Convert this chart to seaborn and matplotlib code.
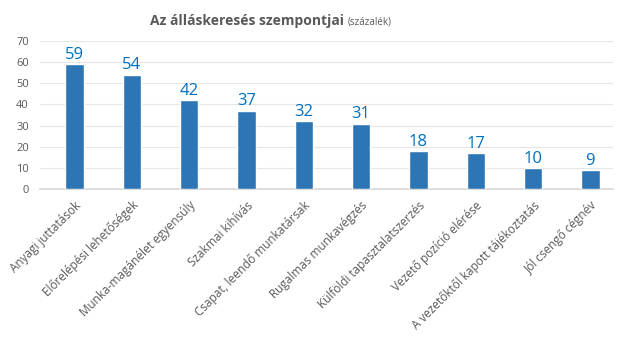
import matplotlib
matplotlib.use("Agg")
import matplotlib.pyplot as plt
import numpy as np
import pandas as pd
import seaborn as sns

# === data ===
CATEGORIES = [
    "Anyagi juttatások",
    "Előrelépési lehetőségek",
    "Munka-magánélet egyensúly",
    "Szakmai kihívás",
    "Csapat, leendő munkatársak",
    "Rugalmas munkavégzés",
    "Külföldi tapasztalatszerzés",
    "Vezető pozíció elérése",
    "A vezetőktől kapott tájékoztatás",
    "Jól csengő cégnév",
]
VALUES = [59, 54, 42, 37, 32, 31, 18, 17, 10, 9]
Y_TICKS = [0, 10, 20, 30, 40, 50, 60, 70]

BAR_COLOR = "#2E75B6"
LABEL_COLOR = "#0070C0"
TEXT_COLOR = "#595959"

sns.set_theme(style="white")
plt.rcParams["font.family"] = ["Open Sans", "DejaVu Sans"]

df = pd.DataFrame({"cat": CATEGORIES, "val": VALUES})

fig = plt.figure(figsize=(6.3, 3.54), dpi=100)
ax = fig.add_axes([0.0635, 0.466, 0.91, 0.418])

sns.barplot(data=df, x="cat", y="val", color=BAR_COLOR, width=0.32,
            saturation=1, ax=ax, zorder=3)

for p, v in zip(ax.patches, VALUES):
    ax.annotate(f"{v}", (p.get_x() + p.get_width() / 2., p.get_height()),
                ha="center", va="bottom", fontsize=12, color=LABEL_COLOR,
                xytext=(0, 1), textcoords="offset points")

ax.set_ylim(0, 70)
ax.set_yticks(Y_TICKS)
ax.yaxis.grid(True, color="#E6E6E6", linewidth=0.8, zorder=0)
ax.set_xlabel("")
ax.set_ylabel("")
for s in ["top", "right", "left"]:
    ax.spines[s].set_visible(False)
ax.spines["bottom"].set_color("#D9D9D9")
ax.tick_params(axis="y", labelsize=8, colors=TEXT_COLOR, length=0, pad=8)
ax.tick_params(axis="x", labelsize=8.5, colors=TEXT_COLOR, length=0, pad=7)
plt.setp(ax.get_xticklabels(), rotation=45, ha="right", rotation_mode="anchor")
ax.set_xlim(-0.6, 9.4)

# title: bold part + small normal part
t1 = fig.text(0.238, 0.93, "Az álláskeresés szempontjai", fontsize=10,
              fontweight="bold", color=TEXT_COLOR, ha="left", va="baseline")
fig.canvas.draw()
bb = t1.get_window_extent()
x2 = (bb.x1 + 4) / fig.bbox.width
fig.text(x2, 0.93, "(százalék)", fontsize=7, color=TEXT_COLOR,
         ha="left", va="baseline")

fig.savefig("out.png", dpi=100)
